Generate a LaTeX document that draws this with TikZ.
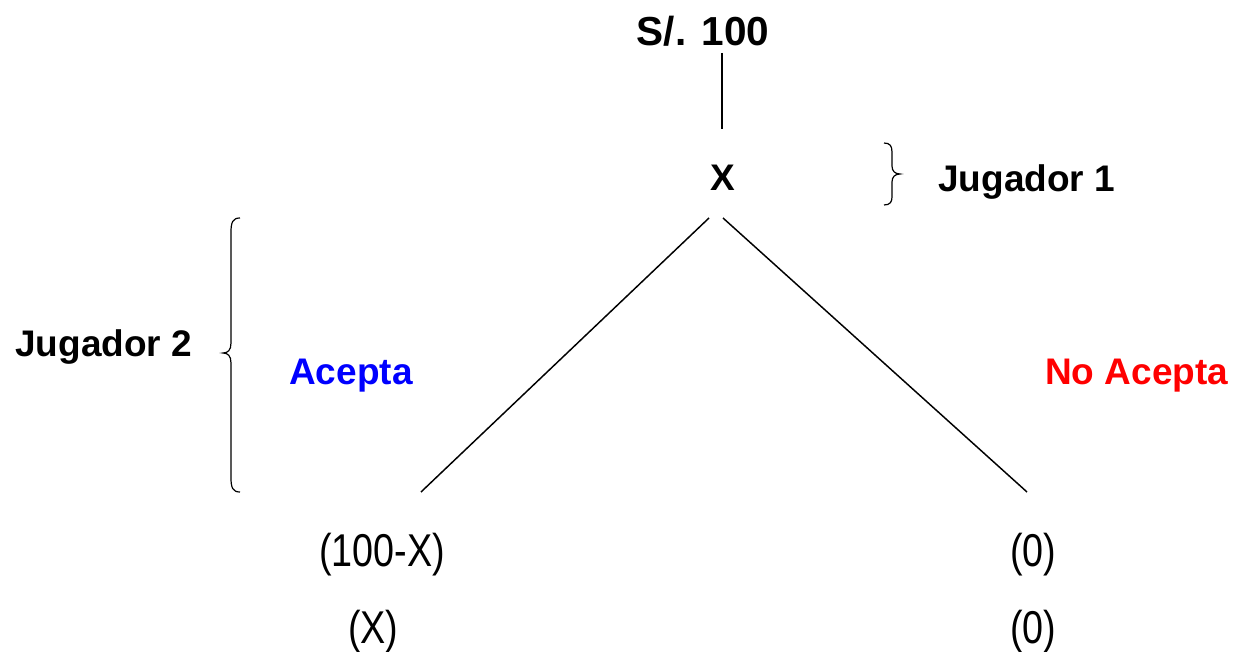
\documentclass[tikz,border=0pt]{standalone}
\usepackage{fontspec}
\setmainfont{Liberation Sans}
\newfontfamily\narrowfont[FakeStretch=0.82]{Liberation Sans}
\definecolor{acblue}{RGB}{0,0,255}
\definecolor{nored}{RGB}{255,0,0}
\begin{document}
\begin{tikzpicture}[x=0.75pt,y=-0.75pt,
  lbl/.style={inner sep=0pt,font=\fontsize{27.75pt}{30pt}\selectfont\bfseries},
  big/.style={inner sep=0pt,font=\fontsize{30.4pt}{33pt}\selectfont\bfseries},
  pay/.style={inner sep=0pt,font=\fontsize{34.5pt}{36pt}\selectfont\narrowfont},
  edge/.style={line width=1.1pt,black},
  brace/.style={line width=0.9pt,black}]
\useasboundingbox (0,0) rectangle (1233,652);
\node[big,anchor=base] (s100) at (703,46) {S/. 100};
\node[lbl,anchor=base] (x) at (723,191) {X};
\node[lbl,anchor=base west] (j1) at (938,192) {Jugador 1};
\node[lbl,anchor=base west] (j2) at (15,357) {Jugador 2};
\node[lbl,anchor=base west,text=acblue] (acepta) at (289,385) {Acepta};
\node[lbl,anchor=base west,text=nored] (noacepta) at (1045,385) {No Acepta};
\node[pay,anchor=base west] (p1a) at (319,566) {(100-X)};
\node[pay,anchor=base west] (p2a) at (348,643) {(X)};
\node[pay,anchor=base west] (p1b) at (1010,566) {(0)};
\node[pay,anchor=base west] (p2b) at (1010,643) {(0)};
\coordinate (stemtop) at (722,53);
\coordinate (stembot) at (722,129);
\coordinate (xl) at (709,218);
\coordinate (xr) at (723,218);
\coordinate (leaf1) at (421,492);
\coordinate (leaf2) at (1027,492);
\draw[edge] (stemtop) -- (stembot);
\draw[edge] (xl) -- (leaf1);
\draw[edge] (xr) -- (leaf2);
% brace for Jugador 2
\draw[brace] (240,218) .. controls (233,218) and (231,222) .. (231,232) -- (231,343)
  .. controls (231,350) and (228,353) .. (223,353)
  .. controls (228,353) and (231,356) .. (231,363) -- (231,478)
  .. controls (231,488) and (233,492) .. (240,492);
% brace for Jugador 1
\draw[brace] (884,143) .. controls (890,143) and (892,146) .. (892,152) -- (892,166)
  .. controls (892,171) and (895,174) .. (900,174)
  .. controls (895,174) and (892,177) .. (892,182) -- (892,197)
  .. controls (892,202) and (890,205) .. (884,205);
\end{tikzpicture}
\end{document}
